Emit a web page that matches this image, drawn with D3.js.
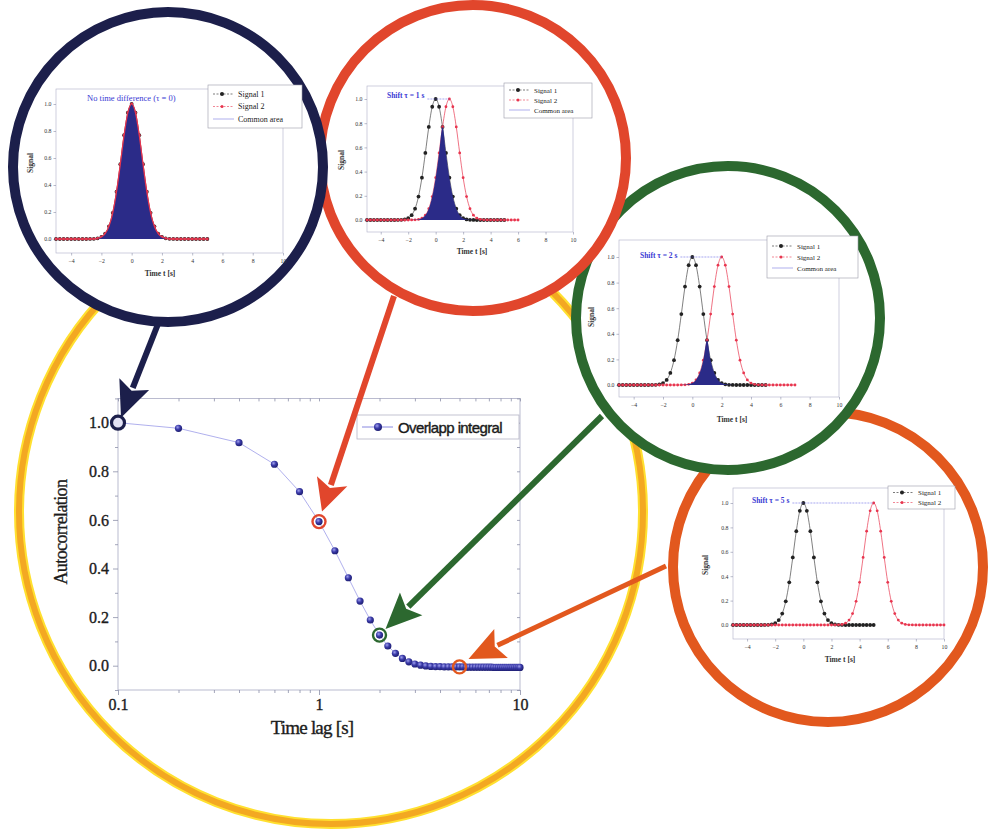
<!DOCTYPE html>
<html><head><meta charset="utf-8">
<script src="https://cdn.jsdelivr.net/npm/d3@7"></script>
<style>html,body{margin:0;padding:0;background:#fff;} svg{display:block;}</style>
</head><body><svg id="c" width="990" height="831"></svg>
<script>
// ---------------- DATA ----------------
const mainLag = [0.1, 0.2, 0.4, 0.6, 0.8, 1.0, 1.2, 1.4, 1.6, 1.8, 2.0, 2.2, 2.4, 2.6, 2.8, 3.0,
  3.2, 3.4, 3.6, 3.8, 4.0, 4.2, 4.4, 4.6, 4.8, 5.0, 5.2, 5.4, 5.6, 5.8, 6.0, 6.2, 6.4, 6.6, 6.8, 7.0,
  7.2, 7.4, 7.6, 7.8, 8.0, 8.2, 8.4, 8.6, 8.8, 9.0, 9.2, 9.4, 9.6, 9.8, 10.0];
const mainOverlap = [1.000, 0.977, 0.918, 0.829, 0.716, 0.593, 0.473, 0.362, 0.266, 0.188, 0.126, 0.081, 0.051, 0.030, 0.016, 0.007,
  0.002, -0.001, -0.003, -0.004, -0.004, -0.005, -0.005, -0.005, -0.005, -0.005, -0.005, -0.006, -0.006, -0.006, -0.006, -0.006, -0.006, -0.006, -0.006, -0.006,
  -0.006, -0.007, -0.007, -0.007, -0.007, -0.007, -0.007, -0.007, -0.007, -0.007, -0.007, -0.007, -0.007, -0.007, -0.007];
const mainXTicks = [0.1, 1, 10];
const mainYTicks = [0.0, 0.2, 0.4, 0.6, 0.8, 1.0];
const mainSeriesName = "Overlapp integral";
const mainXLabel = "Time lag [s]";
const mainYLabel = "Autocorrelation";
const highlightLag = [0.1, 1.0, 2.0, 5.0];
const highlightValue = [1.000, 0.593, 0.126, -0.005];

const pulseTime = [-5, -4.75, -4.5, -4.25, -4, -3.75, -3.5, -3.25, -3, -2.75, -2.5, -2.25, -2, -1.75, -1.5, -1.25, -1, -0.75, -0.5, -0.25,
  0, 0.25, 0.5, 0.75, 1, 1.25, 1.5, 1.75, 2, 2.25, 2.5, 2.75, 3, 3.25, 3.5, 3.75, 4, 4.25, 4.5, 4.75, 5];
const pulseSignal = [0, 0, 0, 0, 0, 0, 0, 0, 0, 0.0004, 0.0014, 0.005, 0.015, 0.040, 0.094, 0.194, 0.350, 0.554, 0.769, 0.936,
  1.000, 0.936, 0.769, 0.554, 0.350, 0.194, 0.094, 0.040, 0.015, 0.005, 0.0014, 0.0004, 0, 0, 0, 0, 0, 0, 0, 0, 0];
const insetShift = [0, 1, 2, 5];
const insetTitle = ["No time difference (\u03c4 = 0)", "Shift \u03c4 = 1 s", "Shift \u03c4 = 2 s", "Shift \u03c4 = 5 s"];
const insetLegend = ["Signal 1", "Signal 2", "Common area"];
const insetXTicks = [-4, -2, 0, 2, 4, 6, 8, 10];
const insetYTicks = [0.0, 0.2, 0.4, 0.6, 0.8, 1.0];
const insetXLabel = "Time t [s]";
const insetYLabel = "Signal";

// ---------------- LAYOUT ----------------
const svg = d3.select("#c");
const defs = svg.append("defs");
const grad = defs.append("radialGradient").attr("id", "dotG").attr("cx", "38%").attr("cy", "35%").attr("r", "65%");
grad.append("stop").attr("offset", "0%").attr("stop-color", "#a0a0ee");
grad.append("stop").attr("offset", "50%").attr("stop-color", "#3a3aa8");
grad.append("stop").attr("offset", "100%").attr("stop-color", "#1e1e72");

const serif = "'Liberation Serif','Times New Roman',serif";
const sans = "'Liberation Sans',Arial,sans-serif";

// yellow big ring
svg.append("circle").attr("cx", 331).attr("cy", 512).attr("r", 312)
  .attr("fill", "none").attr("stroke", "#ffe030").attr("stroke-width", 10);
svg.append("circle").attr("cx", 331).attr("cy", 512).attr("r", 312)
  .attr("fill", "none").attr("stroke", "#f3a822").attr("stroke-width", 6);

// ---------------- MAIN CHART ----------------
const mx = d3.scaleLog().domain([0.1, 10]).range([118, 520]);
const my = d3.scaleLinear().domain([0, 1]).range([665.7, 422.7]);
const fTop = my(1.1), fBot = my(-0.1);
const main = svg.append("g");
main.append("rect").attr("x", mx(0.1)).attr("y", fTop).attr("width", mx(10) - mx(0.1)).attr("height", fBot - fTop)
  .attr("fill", "#fff").attr("stroke", "#a9aac4").attr("stroke-width", 0.8);

const minorX = [0.2, 0.3, 0.4, 0.5, 0.6, 0.7, 0.8, 0.9, 2, 3, 4, 5, 6, 7, 8, 9];
const minorY = [-0.1, 0.1, 0.3, 0.5, 0.7, 0.9, 1.1];
function styleAxis(g, fs) {
  g.select(".domain").remove();
  g.selectAll(".tick line").attr("stroke", "#8c8fa8").attr("stroke-width", 0.8);
  g.selectAll(".tick text").attr("font-family", serif).attr("font-size", fs).attr("fill", "#1c1c1c")
    .attr("stroke", "#1c1c1c").attr("stroke-width", 0.35);
}
main.append("g").attr("transform", `translate(0,${fBot})`)
  .call(d3.axisBottom(mx).tickValues(mainXTicks).tickFormat(d => String(d)).tickSize(5).tickPadding(4))
  .call(g => styleAxis(g, 16));
main.append("g").attr("transform", `translate(0,${fBot})`)
  .call(d3.axisBottom(mx).tickValues(minorX).tickFormat("").tickSize(3)).call(g => styleAxis(g, 16));
main.append("g").attr("transform", `translate(0,${fTop})`)
  .call(d3.axisBottom(mx).tickValues(minorX.concat(mainXTicks)).tickFormat("").tickSize(3)).call(g => styleAxis(g, 16));
main.append("g").attr("transform", `translate(${mx(0.1)},0)`)
  .call(d3.axisLeft(my).tickValues(mainYTicks).tickFormat(d3.format(".1f")).tickSize(5).tickPadding(4))
  .call(g => styleAxis(g, 16));
main.append("g").attr("transform", `translate(${mx(0.1)},0)`)
  .call(d3.axisLeft(my).tickValues(minorY).tickFormat("").tickSize(3)).call(g => styleAxis(g, 16));
main.append("g").attr("transform", `translate(${mx(10)},0)`)
  .call(d3.axisRight(my).tickValues(minorY.concat(mainYTicks)).tickFormat("").tickSize(-3)).call(g => styleAxis(g, 16));

main.append("text").attr("transform", `translate(${67},${my(0.55)}) rotate(-90)`)
  .attr("text-anchor", "middle").attr("font-family", serif).attr("font-size", 18).attr("letter-spacing", -0.6)
  .attr("fill", "#1c1c1c").attr("stroke", "#1c1c1c").attr("stroke-width", 0.3).text(mainYLabel);
main.append("text").attr("x", mx(1) - 7).attr("y", 734).attr("text-anchor", "middle")
  .attr("font-family", serif).attr("font-size", 19).attr("letter-spacing", -0.8).attr("fill", "#1c1c1c")
  .attr("stroke", "#1c1c1c").attr("stroke-width", 0.35).text(mainXLabel);

const mainPts = mainLag.map((d, i) => ({ x: d, y: mainOverlap[i] }));
main.append("path").datum(mainPts)
  .attr("d", d3.line().x(d => mx(d.x)).y(d => my(d.y)))
  .attr("fill", "none").attr("stroke", "#9c9ce8").attr("stroke-width", 0.8);
main.selectAll("circle.pt").data(mainPts).join("circle").attr("class", "pt")
  .attr("cx", d => mx(d.x)).attr("cy", d => my(d.y)).attr("r", 3.6).attr("fill", "url(#dotG)");

// legend
const lgM = main.append("g");
lgM.append("rect").attr("x", 357).attr("y", 415).attr("width", 162).attr("height", 24)
  .attr("fill", "#fff").attr("stroke", "#b4b4c6").attr("stroke-width", 0.8);
lgM.append("line").attr("x1", 362).attr("x2", 393).attr("y1", 427).attr("y2", 427).attr("stroke", "#8888e0").attr("stroke-width", 1);
lgM.append("circle").attr("cx", 378).attr("cy", 427).attr("r", 4).attr("fill", "url(#dotG)");
lgM.append("text").attr("x", 398).attr("y", 433).attr("font-family", sans).attr("font-size", 15)
  .attr("letter-spacing", -0.6).attr("fill", "#1a1a1a").attr("stroke", "#1a1a1a").attr("stroke-width", 0.4).text(mainSeriesName);

// ---------------- INSETS ----------------
const insetLayout = [
  { left: 56, right: 283, top: 89, bottom: 253, y0: 239, y1: 104, lx: 208, ly: 85, lw: 94, lh: 43, lfirst: 9, lstep: 12.5, fs: 8, tfs: 8.5, tx: 87, ty: 101, timeX: 160, timeY: 276, sigX: 33, sigY: 163, cx: 168, cy: 167, r: 155, color: "#1c1f4b" },
  { left: 367, right: 573, top: 86, bottom: 232, y0: 220, y1: 99, lx: 504, ly: 83, lw: 88, lh: 35, lfirst: 7, lstep: 10, fs: 7, tfs: 7.5, tx: 387, ty: 98, timeX: 472, timeY: 254, sigX: 344, sigY: 160, cx: 473, cy: 158, r: 153, color: "#e1462c" },
  { left: 619, right: 839, top: 240, bottom: 397, y0: 385, y1: 257, lx: 767, ly: 236, lw: 91, lh: 42, lfirst: 10, lstep: 11, fs: 7, tfs: 7.5, tx: 640, ty: 258, timeX: 732, timeY: 422, sigX: 594, sigY: 317, cx: 728, cy: 318, r: 152, color: "#2c682f" },
  { left: 733, right: 944, top: 488, bottom: 639, y0: 625, y1: 503, lx: 888, ly: 486, lw: 67, lh: 23, lfirst: 6.5, lstep: 10, fs: 7, tfs: 7.5, tx: 752, ty: 503, timeX: 840, timeY: 662, sigX: 708, sigY: 565, cx: 828, cy: 567, r: 155, color: "#e2581e" }
];

function drawInset(k) {
  const L = insetLayout[k];
  const tau = insetShift[k];
  const g = svg.append("g");
  g.append("circle").attr("cx", L.cx).attr("cy", L.cy).attr("r", L.r)
    .attr("fill", "#fff").attr("stroke", L.color).attr("stroke-width", 10);
  const x = d3.scaleLinear().domain([-5, 10]).range([L.left, L.right]);
  const y = d3.scaleLinear().domain([0, 1]).range([L.y0, L.y1]);
  g.append("rect").attr("x", L.left).attr("y", L.top).attr("width", L.right - L.left).attr("height", L.bottom - L.top)
    .attr("fill", "none").attr("stroke", "#aeb0c8").attr("stroke-width", 0.6);
  const sty = (a) => {
    a.select(".domain").remove();
    a.selectAll(".tick line").attr("stroke", "#8c8fa8").attr("stroke-width", 0.6);
    a.selectAll(".tick text").attr("font-family", serif).attr("font-size", 5.8).attr("fill", "#333");
  };
  g.append("g").attr("transform", `translate(0,${L.bottom})`)
    .call(d3.axisBottom(x).tickValues(insetXTicks).tickFormat(d3.format("d")).tickSize(2.5).tickPadding(3)).call(sty);
  g.append("g").attr("transform", `translate(${L.left},0)`)
    .call(d3.axisLeft(y).tickValues(insetYTicks).tickFormat(d3.format(".1f")).tickSize(2.5).tickPadding(2)).call(sty);

  // signals
  const s1 = pulseTime.map((t, i) => ({ t: t, v: pulseSignal[i] }));
  const pad = pulseTime.filter(t => t < -5 + tau).map(t => ({ t: t, v: 0 }));
  const s2 = pad.concat(pulseTime.map((t, i) => ({ t: t + tau, v: pulseSignal[i] })));
  const s2map = new Map(s2.map(d => [d.t.toFixed(2), d.v]));
  const common = s1.map(d => ({ t: d.t, v: Math.min(d.v, s2map.has(d.t.toFixed(2)) ? s2map.get(d.t.toFixed(2)) : 0) }));

  const line = d3.line().x(d => x(d.t)).y(d => y(d.v)).curve(d3.curveMonotoneX);
  g.append("path").datum(s1).attr("d", line).attr("fill", "none").attr("stroke", "#2a2a2a").attr("stroke-width", 0.6);
  g.selectAll("circle.s1").data(s1).join("circle").attr("class", "s1")
    .attr("cx", d => x(d.t)).attr("cy", d => y(d.v)).attr("r", 1.9).attr("fill", "#222");
  g.append("path").datum(s2).attr("d", line).attr("fill", "none").attr("stroke", "#e8364f").attr("stroke-width", 0.7);
  g.selectAll("circle.s2").data(s2).join("circle").attr("class", "s2")
    .attr("cx", d => x(d.t)).attr("cy", d => y(d.v)).attr("r", 1.4).attr("fill", "#e8364f");
  if (tau < 5) {
    g.append("path").datum(common)
      .attr("d", d3.area().x(d => x(d.t)).y0(y(0)).y1(d => y(d.v)).curve(d3.curveMonotoneX))
      .attr("fill", "#2b2b88");
  }
  if (tau === 0) {
    g.append("path").datum(s2).attr("d", line).attr("fill", "none").attr("stroke", "#e8364f").attr("stroke-width", 1.2);
  }

  // title + shift line
  const title = g.append("text").attr("x", L.tx).attr("y", L.ty).attr("font-family", serif).attr("font-size", L.tfs)
    .attr("font-weight", tau === 0 ? "normal" : "bold").attr("fill", "#3a3ad4").text(insetTitle[k]);
  if (tau > 0) {
    const tb = title.node().getBBox();
    g.append("line").attr("x1", tb.x + tb.width + 3).attr("x2", x(tau)).attr("y1", y(1)).attr("y2", y(1))
      .attr("stroke", "#6c6ce6").attr("stroke-width", 0.6).attr("stroke-dasharray", "2,1");
  }

  // axis titles
  g.append("text").attr("x", L.timeX).attr("y", L.timeY).attr("text-anchor", "middle").attr("font-family", serif)
    .attr("font-size", 7.5).attr("font-weight", "bold").attr("fill", "#333").text(insetXLabel);
  g.append("text").attr("transform", `translate(${L.sigX},${L.sigY}) rotate(-90)`).attr("text-anchor", "middle")
    .attr("font-family", serif).attr("font-size", 7.5).attr("font-weight", "bold").attr("fill", "#333").text(insetYLabel);

  // legend
  const n = tau === 5 ? 2 : 3;
  const lg = g.append("g");
  lg.append("rect").attr("x", L.lx).attr("y", L.ly).attr("width", L.lw).attr("height", L.lh)
    .attr("fill", "#fff").attr("stroke", "#9a9aa8").attr("stroke-width", 0.6);
  const cols = ["#222", "#e8364f", "#7a7ae0"];
  for (let i = 0; i < n; i++) {
    const yy = L.ly + L.lfirst + i * L.lstep;
    lg.append("line").attr("x1", L.lx + 5).attr("x2", L.lx + 26).attr("y1", yy).attr("y2", yy)
      .attr("stroke", cols[i]).attr("stroke-width", 0.6).attr("stroke-dasharray", i < 2 ? "2,1.5" : null);
    if (i < 2) lg.append("circle").attr("cx", L.lx + 14).attr("cy", yy).attr("r", i === 0 ? 2 : 1.5).attr("fill", cols[i]);
    lg.append("text").attr("x", L.lx + 30).attr("y", yy + 2.5).attr("font-family", serif).attr("font-size", L.fs)
      .attr("fill", "#222").text(insetLegend[i]);
  }
}
[3, 2, 1, 0].forEach(drawInset);

// ---------------- HIGHLIGHT RINGS ----------------
const ringCols = ["#1c1f4b", "#e1462c", "#2c682f", "#e2581e"];
const ringFill = ["#e2e2f4", "none", "none", "none"];
svg.selectAll("circle.ring").data(highlightLag).join("circle").attr("class", "ring")
  .attr("cx", d => mx(d)).attr("cy", (d, i) => my(highlightValue[i])).attr("r", 6.5)
  .attr("fill", (d, i) => ringFill[i]).attr("stroke", (d, i) => ringCols[i]).attr("stroke-width", (d, i) => i === 0 ? 3.2 : 2.4);

// ---------------- ARROWS ----------------
const arrows = [
  { x0: 158, y0: 324, x1: mx(0.1) + 3, y1: my(1.0) - 5, c: "#1c1f4b", w: 6, hl: 36, hw: 16 },
  { x0: 394, y0: 296, x1: mx(1.0) + 3, y1: my(0.593) - 10, c: "#e1462c", w: 6, hl: 32, hw: 16 },
  { x0: 602, y0: 416, x1: mx(2.0) + 6, y1: my(0.126) - 6, c: "#2c682f", w: 6, hl: 36, hw: 16 },
  { x0: 666, y0: 566, x1: mx(5.0) + 9, y1: my(-0.005) - 8, c: "#e2581e", w: 5, hl: 36, hw: 16 }
];
arrows.forEach(a => {
  const dx = a.x1 - a.x0, dy = a.y1 - a.y0, len = Math.hypot(dx, dy);
  const ux = dx / len, uy = dy / len, px = -uy, py = ux;
  const bx = a.x1 - ux * a.hl, by = a.y1 - uy * a.hl;
  svg.append("line").attr("x1", a.x0).attr("y1", a.y0).attr("x2", bx + ux * 4).attr("y2", by + uy * 4)
    .attr("stroke", a.c).attr("stroke-width", a.w);
  const nx = bx + ux * 7, ny = by + uy * 7;
  svg.append("polygon")
    .attr("points", [[a.x1, a.y1], [bx + px * a.hw, by + py * a.hw], [nx, ny], [bx - px * a.hw, by - py * a.hw]].map(p => p.join(",")).join(" "))
    .attr("fill", a.c);
});
</script>
</body></html>
